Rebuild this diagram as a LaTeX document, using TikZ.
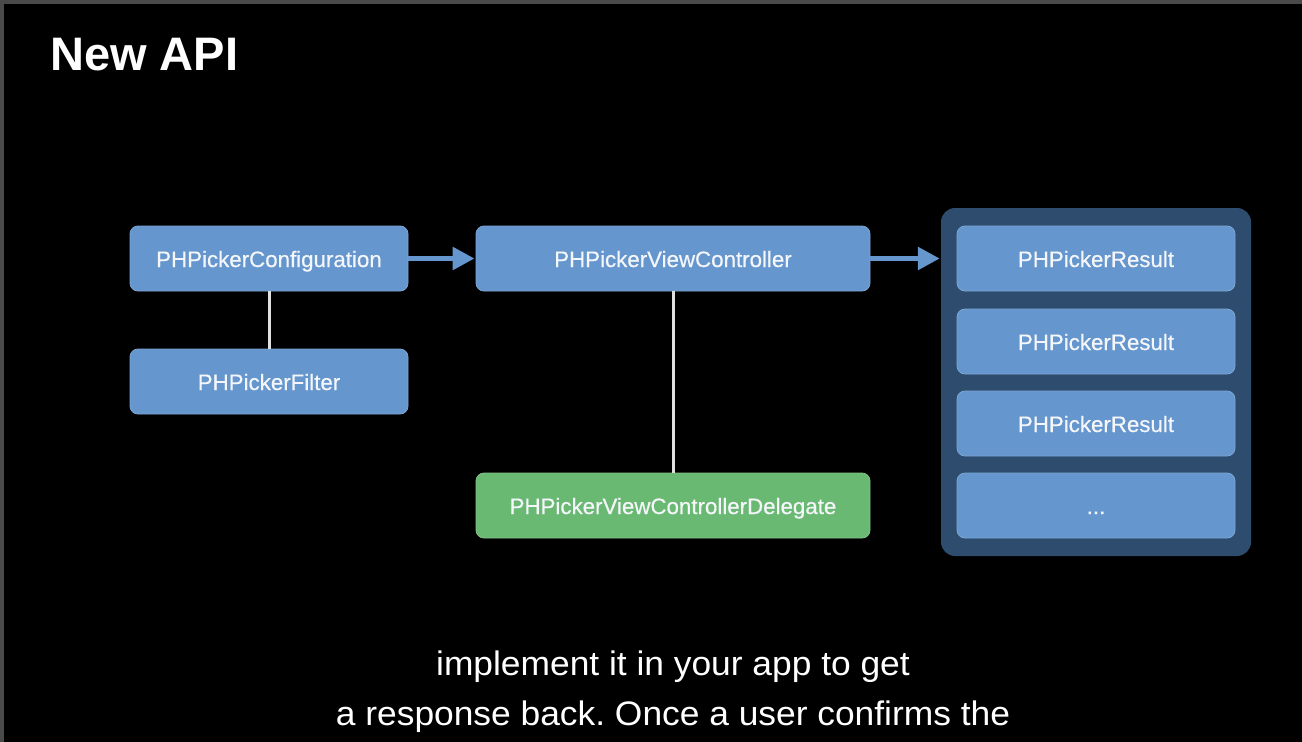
\documentclass[tikz,border=0pt]{standalone}
\usepackage{fontspec}
\setmainfont{Liberation Sans}
\newfontfamily\boxfont[FakeBold=0.5]{Liberation Sans}
\frenchspacing
\usetikzlibrary{arrows.meta}
\definecolor{boxblue}{RGB}{101,150,205}
\definecolor{boxgreen}{RGB}{106,185,114}
\definecolor{panel}{RGB}{46,77,110}
\definecolor{frame}{RGB}{74,74,74}
\definecolor{txt}{RGB}{244,246,250}
\tikzset{
  box/.style={rectangle, rounded corners=8pt, fill=boxblue, draw=boxblue!85!white, line width=0.8pt,
    minimum width=278pt, minimum height=65pt, inner sep=0pt, text height=19pt, text depth=2pt,
    text=txt, font=\boxfont\fontsize{22.3}{26}\selectfont},
  widebox/.style={box, minimum width=394pt},
  greenbox/.style={widebox, fill=boxgreen, draw=boxgreen!85!white},
  flow/.style={draw=boxblue, line width=5.5pt, -{Triangle[width=22pt,length=22pt]}, shorten >=1pt},
  link/.style={draw=white!88!black, line width=3pt},
  caption/.style={text=white, font=\fontsize{34}{40}\selectfont, anchor=base, inner sep=0pt}
}
\begin{document}
\begin{tikzpicture}[x=1pt,y=-1pt]
  \useasboundingbox (0,0) rectangle (1302,742);
  \fill[frame] (0,0) rectangle (1302,742);
  \fill[black] (4,4) rectangle (1302,742);

  \node[anchor=base west, inner sep=0pt, text=white, font=\bfseries\fontsize{47}{52}\selectfont] (title) at (50,70) {New API};

  \node[rectangle, rounded corners=14pt, fill=panel, minimum width=310pt, minimum height=348pt, inner sep=0pt] (panel) at (1096,382) {};

  \node[box] (config) at (269,258.5) {PHPickerConfiguration};
  \node[box] (filter) at (269,381.5) {PHPickerFilter};
  \node[widebox] (vc) at (673,258.5) {PHPickerViewController};
  \node[greenbox] (delegate) at (673,505.5) {PHPickerViewControllerDelegate};

  \node[box] (r1) at (1096,258.5) {PHPickerResult};
  \node[box] (r2) at (1096,341.5) {PHPickerResult};
  \node[box] (r3) at (1096,423.5) {PHPickerResult};
  \node[box] (r4) at (1096,505.5) {...};

  \draw[link] (config.south) -- (filter.north);
  \draw[link] (vc.south) -- (delegate.north);
  \draw[flow] (config.east) -- (vc.west);
  \draw[flow] (vc.east) -- (vc.east -| panel.west);

  \node[caption] (cap1) at (673,675) {\scalebox{1.04}[1]{implement it in your app to get}};
  \node[caption] (cap2) at (673,725) {\scalebox{1.04}[1]{a response back. Once a user confirms the}};
\end{tikzpicture}
\end{document}
